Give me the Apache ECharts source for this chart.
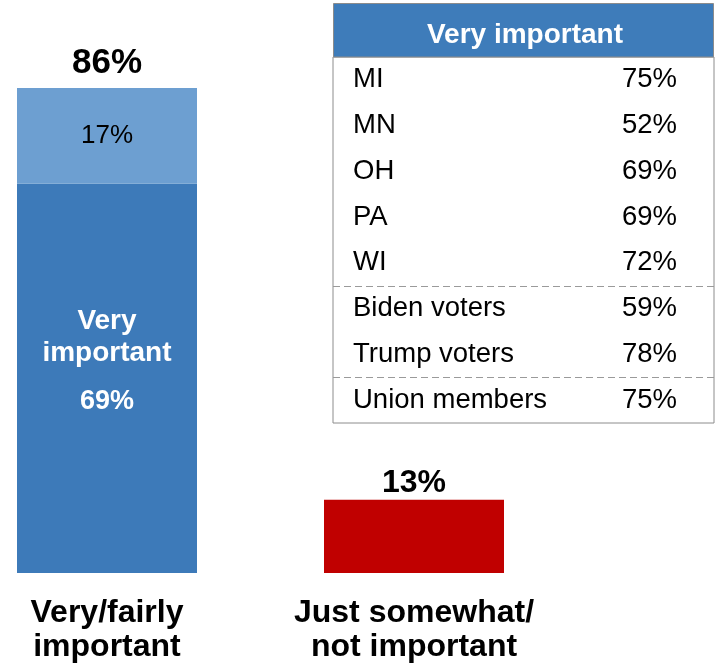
<!DOCTYPE html>
<html>
<head>
<meta charset="utf-8">
<script src="https://cdn.jsdelivr.net/npm/echarts@6/dist/echarts.min.js"></script>
<style>html,body{margin:0;padding:0;background:#fff}#c{width:719px;height:664px}</style>
</head>
<body>
<div id="c"></div>
<script>
// ---- data ----
var categories = ['Very/fairly\nimportant', 'Just somewhat/\nnot important'];
var veryImportant = [69, null];
var fairlyImportant = [17, null];
var notImportant = [null, 13];
var tableTitle = 'Very important';
var tableRows = ['MI', 'MN', 'OH', 'PA', 'WI', 'Biden voters', 'Trump voters', 'Union members'];
var tableValues = [75, 52, 69, 69, 72, 59, 78, 75];

var FONT = '"Liberation Sans", Arial, sans-serif';
var totals = categories.map(function (c, i) {
  return (veryImportant[i] || 0) + (fairlyImportant[i] || 0) + (notImportant[i] || 0);
});
function toData(arr) { return arr.map(function (v) { return v == null ? '-' : v; }); }

var chart = echarts.init(document.getElementById('c'), null, { renderer: 'canvas' });

var sepColors = tableRows.map(function () { return 'rgba(0,0,0,0)'; });
sepColors.push('rgba(0,0,0,0)');
sepColors[5] = '#9a9a9a';
sepColors[7] = '#9a9a9a';

var option = {
  animation: false,
  textStyle: { fontFamily: FONT },
  grid: [
    { left: 107, width: 307, top: 9, bottom: 91 },
    { left: 333, width: 381, top: 57, height: 366, show: true, borderColor: '#8c8c8c', borderWidth: 1, backgroundColor: '#fff' }
  ],
  xAxis: [
    {
      gridIndex: 0, type: 'category', data: categories, boundaryGap: false,
      axisLine: { show: false }, axisTick: { show: false }, splitLine: { show: false },
      axisLabel: { interval: 0, fontFamily: FONT, fontSize: 32, fontWeight: 'bold', color: '#000', lineHeight: 34, margin: 23 }
    },
    { gridIndex: 1, type: 'value', min: 0, max: 100, show: false }
  ],
  yAxis: [
    { gridIndex: 0, type: 'value', min: 0, max: 100, show: false },
    {
      gridIndex: 1, type: 'category', data: tableRows, inverse: true, position: 'left',
      axisLine: { show: false }, axisTick: { show: false },
      axisLabel: { interval: 0, inside: true, margin: 20, padding: [4, 0, 0, 0], fontFamily: FONT, fontSize: 27.5, color: '#000' },
      splitLine: { show: true, interval: 0, lineStyle: { color: sepColors, type: [7, 4], width: 1 } }
    },
    {
      gridIndex: 1, type: 'category', data: tableValues.map(function (v) { return v + '%'; }), inverse: true, position: 'right',
      axisLine: { show: false }, axisTick: { show: false }, splitLine: { show: false },
      axisLabel: { interval: 0, inside: true, margin: 37, padding: [4, 0, 0, 0], fontFamily: FONT, fontSize: 27.5, color: '#000' }
    }
  ],
  graphic: [
    {
      type: 'rect', z: 10,
      shape: { x: 333.5, y: 3.5, width: 380, height: 53.5 },
      style: { fill: '#3e7cba', stroke: '#8c8c8c', lineWidth: 1 }
    },
    {
      type: 'text', z: 11, x: 525, y: 35,
      style: { text: tableTitle, fill: '#fff', font: 'bold 28px ' + FONT, textAlign: 'center', textVerticalAlign: 'middle' }
    }
  ],
  series: [
    {
      name: 'Very important', type: 'bar', stack: 's', xAxisIndex: 0, yAxisIndex: 0, clip: false,
      barWidth: 180, data: toData(veryImportant),
      itemStyle: { color: '#3d7ab9' },
      label: {
        show: true, position: 'inside', offset: [0, -9],
        formatter: function (p) { return '{a|Very}\n{a|important}\n{b|' + p.value + '%}'; },
        rich: {
          a: { fontFamily: FONT, fontSize: 28, fontWeight: 'bold', color: '#fff', lineHeight: 32 },
          b: { fontFamily: FONT, fontSize: 27, fontWeight: 'bold', color: '#fff', lineHeight: 64 }
        }
      }
    },
    {
      name: 'Fairly important', type: 'bar', stack: 's', xAxisIndex: 0, yAxisIndex: 0, clip: false,
      barWidth: 180, data: toData(fairlyImportant),
      itemStyle: { color: '#6d9fd1' },
      label: { show: true, position: 'inside', formatter: '{c}%', fontFamily: FONT, fontSize: 26, color: '#000' }
    },
    {
      name: 'Just somewhat/not important', type: 'bar', stack: 's', xAxisIndex: 0, yAxisIndex: 0, clip: false,
      barWidth: 180, data: toData(notImportant),
      itemStyle: { color: '#c00000' }
    },
    {
      name: 'Total', type: 'bar', stack: 's', xAxisIndex: 0, yAxisIndex: 0, clip: false,
      barWidth: 180, itemStyle: { color: 'rgba(0,0,0,0)' },
      data: totals.map(function (t, i) {
        return {
          value: 0,
          label: i === 0 ? { fontSize: 35, distance: 7 } : { fontSize: 32, distance: 1 }
        };
      }),
      label: {
        show: true, position: 'top', fontFamily: FONT, fontWeight: 'bold', color: '#000',
        formatter: function (p) { return totals[p.dataIndex] + '%'; }
      }
    }
  ]
};
chart.setOption(option);
</script>
</body>
</html>
